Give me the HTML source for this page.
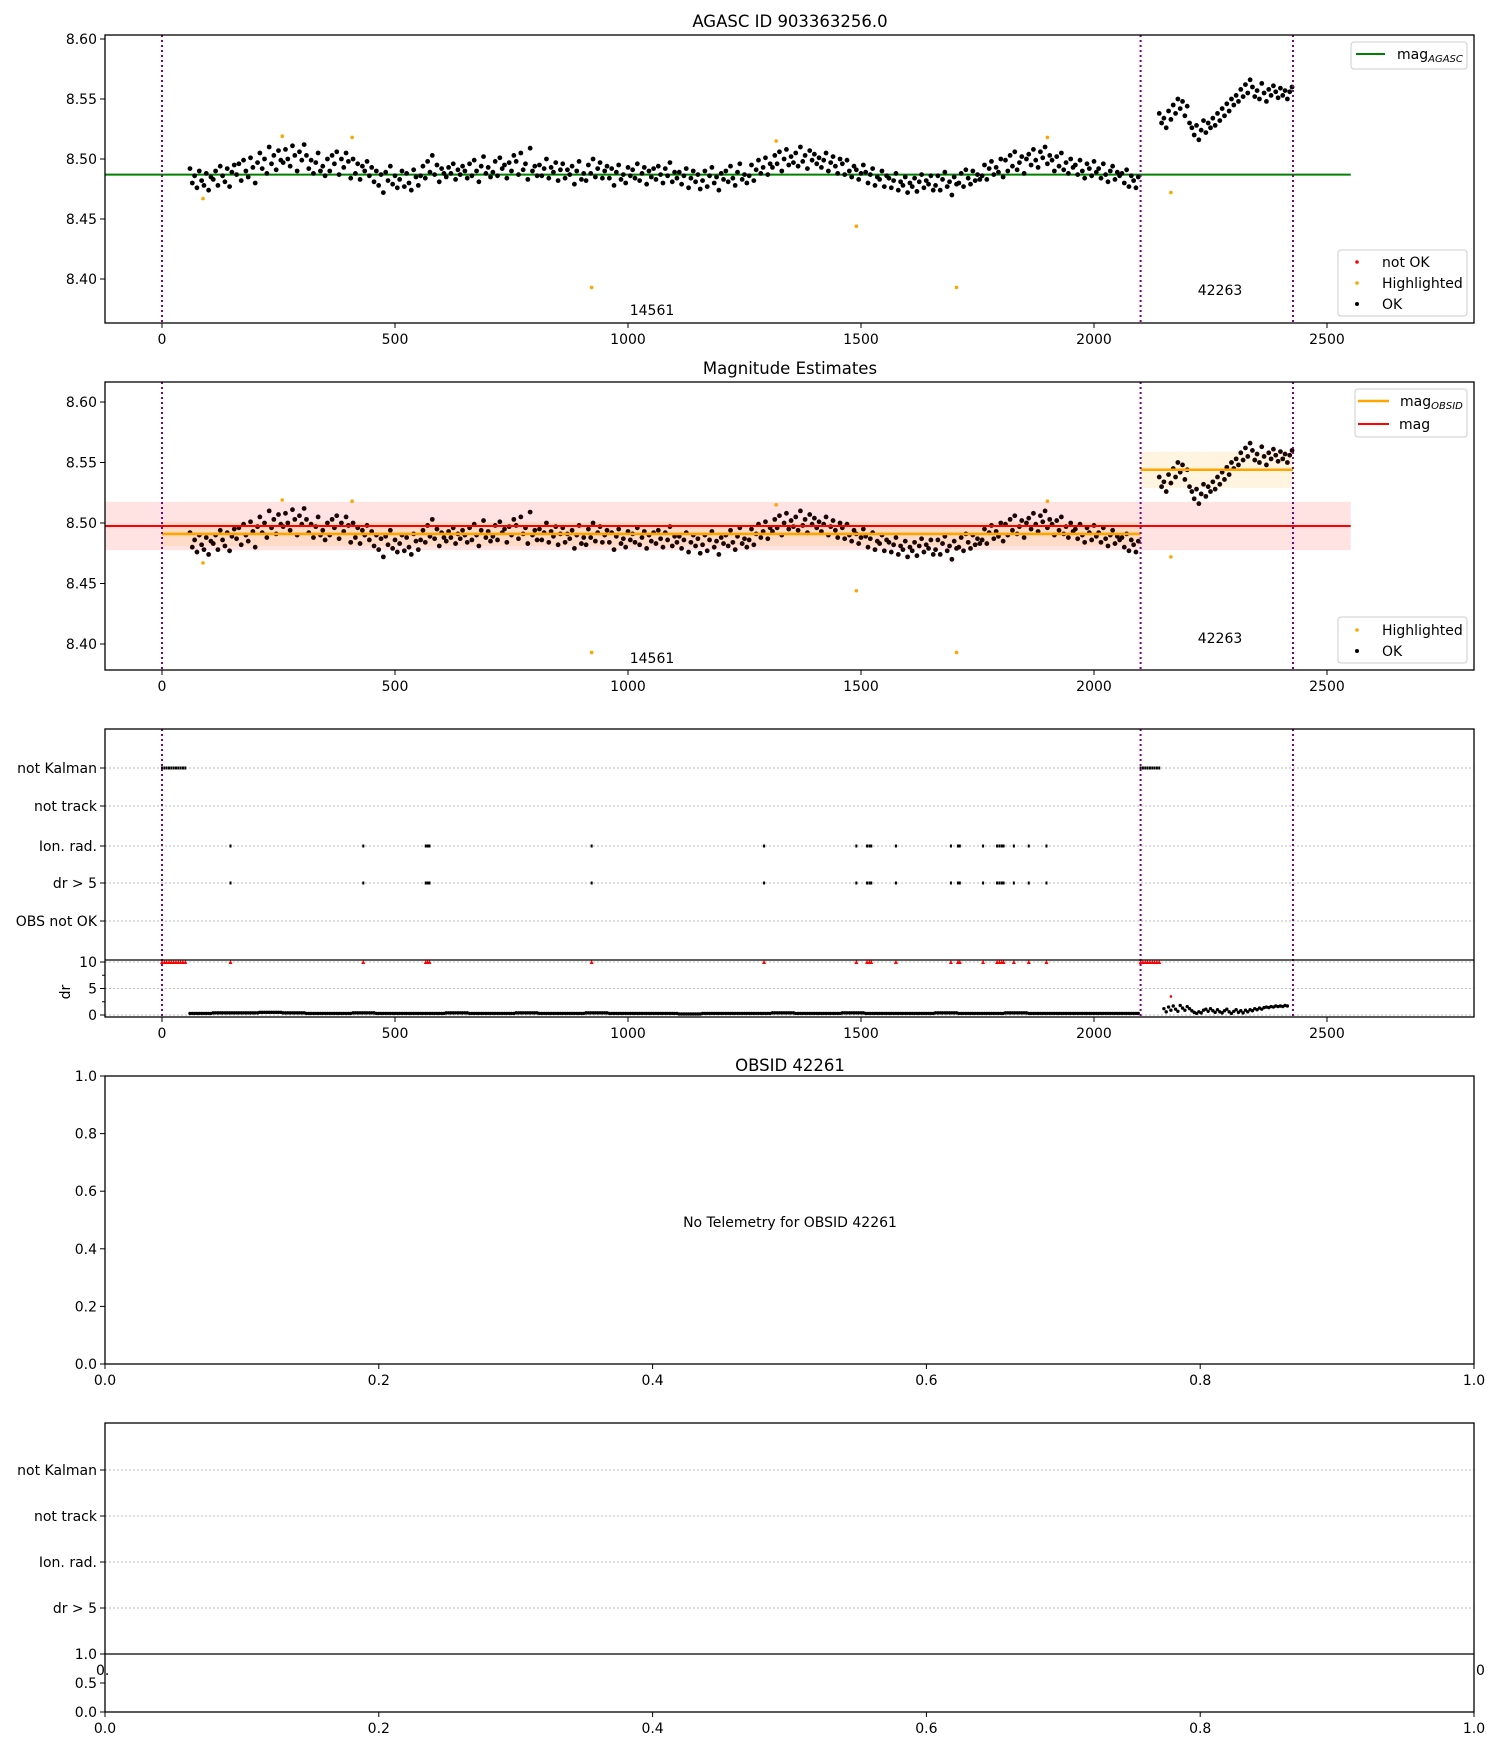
<!DOCTYPE html>
<html><head><meta charset="utf-8">
<style>
html,body{margin:0;padding:0;background:#fff;}
svg{display:block;font-family:"DejaVu Sans","Liberation Sans",sans-serif;}
</style></head>
<body>
<svg id="fig" width="1500" height="1750" viewBox="0 0 1500 1750" xmlns="http://www.w3.org/2000/svg"></svg>
<script>
// ---------- DATA ----------
const seg1Start = 60, seg1Step = 5;
const mags1 = [
8.492,8.480,8.486,8.476,8.490,8.482,8.478,8.488,8.474,8.485,
8.483,8.490,8.478,8.494,8.486,8.481,8.492,8.477,8.489,8.495,
8.487,8.496,8.482,8.499,8.490,8.485,8.501,8.493,8.480,8.497,
8.505,8.492,8.500,8.488,8.510,8.496,8.503,8.491,8.507,8.499,
8.497,8.508,8.500,8.494,8.511,8.503,8.490,8.506,8.499,8.512,
8.503,8.492,8.499,8.488,8.497,8.505,8.490,8.494,8.486,8.500,
8.490,8.503,8.496,8.506,8.487,8.500,8.493,8.505,8.498,8.484,
8.500,8.488,8.496,8.483,8.494,8.490,8.498,8.486,8.493,8.481,
8.490,8.478,8.487,8.472,8.489,8.482,8.494,8.479,8.486,8.476,
8.483,8.490,8.477,8.488,8.480,8.474,8.491,8.485,8.478,8.486,
8.494,8.484,8.498,8.489,8.503,8.487,8.495,8.481,8.492,8.488,
8.485,8.493,8.488,8.496,8.483,8.491,8.487,8.494,8.490,8.484,
8.496,8.486,8.499,8.490,8.481,8.494,8.502,8.488,8.493,8.485,
8.489,8.498,8.486,8.501,8.492,8.495,8.484,8.497,8.490,8.503,
8.498,8.487,8.505,8.491,8.496,8.483,8.509,8.490,8.494,8.486,
8.495,8.486,8.492,8.500,8.484,8.493,8.489,8.497,8.482,8.491,
8.496,8.484,8.491,8.487,8.494,8.479,8.490,8.498,8.483,8.488,
8.482,8.495,8.488,8.500,8.485,8.492,8.497,8.484,8.490,8.494,
8.484,8.492,8.478,8.489,8.495,8.483,8.487,8.480,8.493,8.486,
8.491,8.484,8.496,8.482,8.488,8.493,8.479,8.490,8.485,8.492,
8.483,8.494,8.487,8.480,8.492,8.486,8.497,8.481,8.489,8.484,
8.489,8.479,8.486,8.492,8.476,8.484,8.490,8.481,8.487,8.475,
8.482,8.490,8.477,8.486,8.493,8.480,8.485,8.474,8.488,8.483,
8.490,8.481,8.494,8.484,8.478,8.489,8.496,8.483,8.487,8.480,
8.486,8.495,8.482,8.491,8.499,8.488,8.493,8.501,8.487,8.496,
8.493,8.503,8.496,8.506,8.490,8.500,8.508,8.495,8.502,8.497,
8.505,8.494,8.510,8.498,8.503,8.492,8.507,8.499,8.504,8.496,
8.501,8.493,8.499,8.505,8.490,8.497,8.502,8.494,8.488,8.500,
8.496,8.487,8.499,8.490,8.485,8.494,8.491,8.483,8.488,8.495,
8.489,8.480,8.487,8.492,8.478,8.485,8.483,8.490,8.477,8.486,
8.484,8.476,8.482,8.488,8.474,8.481,8.478,8.485,8.472,8.480,
8.477,8.484,8.473,8.481,8.487,8.476,8.482,8.479,8.486,8.474,
8.478,8.486,8.474,8.483,8.489,8.477,8.481,8.470,8.485,8.479,
8.480,8.488,8.477,8.491,8.484,8.479,8.490,8.482,8.487,8.483,
8.486,8.495,8.483,8.492,8.498,8.487,8.493,8.489,8.500,8.485,
8.499,8.490,8.503,8.494,8.506,8.491,8.497,8.502,8.488,8.500,
8.504,8.495,8.508,8.499,8.493,8.506,8.501,8.510,8.496,8.503,
8.499,8.490,8.502,8.494,8.505,8.491,8.497,8.488,8.500,8.493,
8.495,8.487,8.499,8.490,8.484,8.496,8.492,8.486,8.498,8.489,
8.492,8.484,8.496,8.487,8.481,8.490,8.494,8.483,8.489,8.486,
8.488,8.480,8.491,8.477,8.486,8.482,8.476,8.485];
const seg2Start = 2140, seg2Step = 5;
const mags2 = [
8.538,8.530,8.534,8.526,8.540,8.533,8.545,8.538,8.550,8.542,
8.548,8.536,8.544,8.530,8.526,8.520,8.528,8.516,8.524,8.532,
8.522,8.530,8.526,8.534,8.528,8.538,8.532,8.542,8.536,8.546,
8.540,8.550,8.545,8.553,8.548,8.558,8.552,8.562,8.555,8.566,
8.560,8.552,8.557,8.550,8.563,8.555,8.548,8.558,8.553,8.561,
8.556,8.551,8.559,8.553,8.557,8.550,8.556,8.560];
const hlTimes = [88,258,408,922,1318,1490,1705,1900,2165];
const hlMags  = [8.467,8.519,8.518,8.393,8.515,8.444,8.393,8.518,8.472];
const dr1Groups = [0.3,0.4,0.4,0.5,0.4,0.3,0.3,0.4,0.3,0.3,0.3,0.4,0.3,0.3,0.4,0.3,0.3,0.4,0.3,0.3,0.3,0.2,0.3,0.3,0.3,0.4,0.3,0.3,0.4,0.3,0.3,0.3,0.4,0.3,0.3,0.4,0.3,0.3,0.3,0.3,0.3];
const dr2 = [1.2,0.6,1.5,0.9,1.7,1.1,0.7,1.8,1.3,0.9,1.6,1.2,0.8,0.5,0.3,0.6,0.4,0.9,1.1,0.7,
1.2,0.8,0.5,1.0,0.6,0.4,0.8,1.1,0.6,0.3,0.7,1.0,0.5,0.8,0.4,0.9,0.6,1.0,0.8,1.2,
1.0,1.3,1.1,1.4,1.5,1.4,1.6,1.5,1.7,1.6,1.7,1.6,1.8,1.7];
const drNotOkTimes = [2165]; const drNotOkVals=[3.5];
const flagTimes = [147,432,566,570,574,922,1292,1490,1513,1518,1522,1575,1693,1708,1712,1762,1792,1797,1802,1806,1828,1860,1898];
const notKalmanRanges = [[0,53],[2100,2140]];
const obsStarts = [0,2100,2427];
const agascMag = 8.487, meanMag = 8.4975, meanStd = 0.020;
const obsMagVals = [8.491,8.544], obsMagErr=[0.010,0.015];
const flagLabels = ["not Kalman","not track","Ion. rad.","dr > 5","OBS not OK"];
const xTicks=[0,500,1000,1500,2000,2500];
const magTicks=[8.40,8.45,8.50,8.55,8.60];
const drTicks=[0,5,10];
const unitTicks=[0.0,0.2,0.4,0.6,0.8,1.0];

// ---------- HELPERS ----------
const svg=document.getElementById('fig');
const NS='http://www.w3.org/2000/svg';
function mk(tag,attrs,parent){const e=document.createElementNS(NS,tag);for(const k in attrs)e.setAttribute(k,attrs[k]);(parent||svg).appendChild(e);return e;}
function txt(s,x,y,size,anchor,parent){const e=mk('text',{x:x,y:y,'font-size':size,'text-anchor':anchor||'middle',fill:'#000'},parent);e.textContent=s;return e;}
const L=105,R=1474;
const xs=t=>162+t*0.466;
const xu=v=>L+v*(R-L);
function magScale(y8_60,y8_40){return m=>y8_60+(8.60-m)*(y8_40-y8_60)/0.2;}
const pts1=mags1.map((m,i)=>[seg1Start+i*seg1Step,m]);
const pts2=mags2.map((m,i)=>[seg2Start+i*seg2Step,m]);
const allPts=pts1.concat(pts2);

function frame(top,bot,name){const r=mk('rect',{x:L,y:top,width:R-L,height:bot-top,fill:'none',stroke:'#000','stroke-width':1.3});}
function xAxis(bot,ticks,fn,fmt){const g=mk('g',{});
 ticks.forEach(t=>{const x=fn(t);mk('line',{x1:x,x2:x,y1:bot,y2:bot+5,stroke:'#000'},g);txt(fmt(t),x,bot+21,14,'middle',g);});}
function yAxis(ticks,fn,fmt){const g=mk('g',{});
 ticks.forEach(t=>{const y=fn(t);mk('line',{x1:L-5,x2:L,y1:y,y2:y,stroke:'#000'},g);txt(fmt(t),L-8,y+5,14,'end',g);});}
function vlines(top,bot){obsStarts.forEach(t=>{const l=mk('line',{x1:xs(t),x2:xs(t),y1:top,y2:bot,stroke:'#800080','stroke-width':2,'stroke-dasharray':'2,3'});});}
function dots(points,fn,color,r,name){const g=mk('g',{fill:color});
 points.forEach(p=>mk('circle',{cx:xs(p[0]),cy:fn(p[1]),r:r},g));}

// ---------- PANEL 1 ----------
(function(){const top=35,bot=323,ys=magScale(39,279);
 const t=txt('AGASC ID 903363256.0',790,27,16.5);
 const gl=mk('line',{x1:L,x2:xs(2551),y1:ys(agascMag),y2:ys(agascMag),stroke:'#008000','stroke-width':2});
 dots(allPts,ys,'#000',2.4,'ok-points');
 dots(hlTimes.map((t,i)=>[t,hlMags[i]]),ys,'orange',1.8,'highlighted-points');
 vlines(top,bot);
 txt('14561',652,315,14);txt('42263',1220,295,14);
 frame(top,bot,'agasc-axes');
 xAxis(bot,xTicks,xs,v=>String(v));yAxis(magTicks,ys,v=>v.toFixed(2));
 const lg=mk('g',{});
 mk('rect',{x:1351,y:42,width:116,height:27,rx:3,fill:'#fff',stroke:'#ccc'},lg);
 mk('line',{x1:1356,x2:1385,y1:54,y2:54,stroke:'#008000','stroke-width':2},lg);
 const a=txt('mag',1397,59,14,'start',lg);const s=mk('tspan',{'font-size':10,'font-style':'italic',dy:3},a);s.textContent='AGASC';
 const lg2=mk('g',{});
 mk('rect',{x:1338,y:250,width:129,height:66,rx:3,fill:'#fff',stroke:'#ccc'},lg2);
 mk('circle',{cx:1357,cy:262,r:1.8,fill:'red'},lg2);txt('not OK',1382,267,14,'start',lg2);
 mk('circle',{cx:1357,cy:283,r:1.8,fill:'orange'},lg2);txt('Highlighted',1382,288,14,'start',lg2);
 mk('circle',{cx:1357,cy:304,r:2,fill:'#000'},lg2);txt('OK',1382,309,14,'start',lg2);
})();

// ---------- PANEL 2 ----------
(function(){const top=382,bot=670,ys=magScale(402,644);
 const t=txt('Magnitude Estimates',790,374,16.5);
 const b=mk('rect',{x:L,y:ys(meanMag+meanStd),width:xs(2551)-L,height:ys(meanMag-meanStd)-ys(meanMag+meanStd),fill:'red','fill-opacity':0.11});
 const segs=[[0,2100],[2100,2427]];
 segs.forEach((s,i)=>{const r=mk('rect',{x:xs(s[0]),y:ys(obsMagVals[i]+obsMagErr[i]),width:xs(s[1])-xs(s[0]),height:ys(obsMagVals[i]-obsMagErr[i])-ys(obsMagVals[i]+obsMagErr[i]),fill:'orange','fill-opacity':0.12});});
 dots(allPts,ys,'#1a0505',2.4,'ok-points');
 segs.forEach((s,i)=>{const l=mk('line',{x1:xs(s[0]),x2:xs(s[1]),y1:ys(obsMagVals[i]),y2:ys(obsMagVals[i]),stroke:'orange','stroke-width':2.6});});
 const rl=mk('line',{x1:L,x2:xs(2551),y1:ys(meanMag),y2:ys(meanMag),stroke:'red','stroke-width':2});
 dots(hlTimes.map((t,i)=>[t,hlMags[i]]),ys,'orange',1.8,'highlighted-points');
 vlines(top,bot);
 txt('14561',652,663,14);txt('42263',1220,643,14);
 frame(top,bot,'mag-estimates-axes');
 xAxis(bot,xTicks,xs,v=>String(v));yAxis(magTicks,ys,v=>v.toFixed(2));
 const lg=mk('g',{});
 mk('rect',{x:1355,y:389,width:112,height:48,rx:3,fill:'#fff',stroke:'#ccc'},lg);
 mk('line',{x1:1358,x2:1389,y1:401,y2:401,stroke:'orange','stroke-width':2.6},lg);
 const a=txt('mag',1400,406,14,'start',lg);const s=mk('tspan',{'font-size':10,'font-style':'italic',dy:3},a);s.textContent='OBSID';
 mk('line',{x1:1358,x2:1389,y1:424,y2:424,stroke:'red','stroke-width':2},lg);txt('mag',1399,429,14,'start',lg);
 const lg2=mk('g',{});
 mk('rect',{x:1338,y:617,width:129,height:46,rx:3,fill:'#fff',stroke:'#ccc'},lg2);
 mk('circle',{cx:1357,cy:630,r:1.8,fill:'orange'},lg2);txt('Highlighted',1382,635,14,'start',lg2);
 mk('circle',{cx:1357,cy:651,r:2,fill:'#000'},lg2);txt('OK',1382,656,14,'start',lg2);
})();

// ---------- PANEL 3 (flags + dr) ----------
(function(){const top=729,mid=960,bot=1017;
 const rowY=[768,806,846,883,921];
 const dry=v=>1015-v*5.3;
 flagLabels.forEach((lab,i)=>{const gl=mk('line',{x1:L,x2:R,y1:rowY[i],y2:rowY[i],stroke:'#bbb','stroke-dasharray':'2,2'});
  mk('line',{x1:L-5,x2:L,y1:rowY[i],y2:rowY[i],stroke:'#000'});const t=txt(lab,L-8,rowY[i]+5,14,'end');});
 drTicks.forEach(v=>{mk('line',{x1:L,x2:R,y1:dry(v),y2:dry(v),stroke:'#bbb','stroke-dasharray':'2,2'});mk('line',{x1:L-5,x2:L,y1:dry(v),y2:dry(v),stroke:'#000'});txt(String(v),L-8,dry(v)+5,14,'end');});
 [2.5,7.5].forEach(v=>mk('line',{x1:L-3,x2:L,y1:dry(v),y2:dry(v),stroke:'#000'}));
 const dl=txt('dr',0,0,14);dl.setAttribute('transform','translate(70,992) rotate(-90)');
 const g=mk('g',{});
 notKalmanRanges.forEach(r=>{for(let t=r[0];t<=r[1];t+=5){mk('rect',{x:xs(t)-1,y:rowY[0]-1.5,width:2,height:3,fill:'#000'},g);mk('path',{d:`M${xs(t)-2} ${dry(10)+2}L${xs(t)} ${dry(10)-2}L${xs(t)+2} ${dry(10)+2}Z`,fill:'red'},g);}});
 flagTimes.forEach(t=>{[rowY[2],rowY[3]].forEach(y=>mk('rect',{x:xs(t)-1,y:y-1.5,width:2,height:3,fill:'#000'},g));mk('path',{d:`M${xs(t)-2} ${dry(10)+2}L${xs(t)} ${dry(10)-2}L${xs(t)+2} ${dry(10)+2}Z`,fill:'red'},g);});
 const dg=mk('g',{fill:'#000'});
 pts1.forEach((p,i)=>mk('circle',{cx:xs(p[0]),cy:dry(dr1Groups[Math.floor(i/10)]),r:1.7},dg));
 dr2.forEach((v,i)=>mk('circle',{cx:xs(2150+i*5),cy:dry(v),r:1.7},dg));
 drNotOkTimes.forEach((t,i)=>mk('circle',{cx:xs(t),cy:dry(drNotOkVals[i]),r:1.3,fill:'red'}));
 vlines(top,bot);
 frame(top,bot,'flags-axes');
 mk('line',{x1:L,x2:R,y1:mid,y2:mid,stroke:'#000','stroke-width':1.3});
 xAxis(bot,xTicks,xs,v=>String(v));
})();

// ---------- PANEL 4 ----------
(function(){const top=1076,bot=1364,yu=v=>bot-v*(bot-top);
 const t=txt('OBSID 42261',790,1071,16.5);
 frame(top,bot,'obsid-axes');
 xAxis(bot,unitTicks,xu,v=>v.toFixed(1));yAxis(unitTicks,yu,v=>v.toFixed(1));
 const n=txt('No Telemetry for OBSID 42261',790,1227,14);
})();

// ---------- PANEL 5 ----------
(function(){const top=1423,mid=1654,bot=1712;
 const rowY=[1470,1516,1562,1608];
 flagLabels.slice(0,4).forEach((lab,i)=>{mk('line',{x1:L,x2:R,y1:rowY[i],y2:rowY[i],stroke:'#bbb','stroke-dasharray':'2,2'});mk('line',{x1:L-5,x2:L,y1:rowY[i],y2:rowY[i],stroke:'#000'});const t=txt(lab,L-8,rowY[i]+5,14,'end');});
 frame(top,bot,'obsid-flags-axes');
 mk('line',{x1:L,x2:R,y1:mid,y2:mid,stroke:'#000','stroke-width':1.3});
 const yu=v=>bot-v*(bot-mid);
 yAxis([0,0.5,1.0],yu,v=>v.toFixed(1));
 txt('0.',96,1675,14,'start');txt('0',1476,1675,14,'start');
 xAxis(bot,unitTicks,xu,v=>v.toFixed(1));
})();
</script>
</body></html>
